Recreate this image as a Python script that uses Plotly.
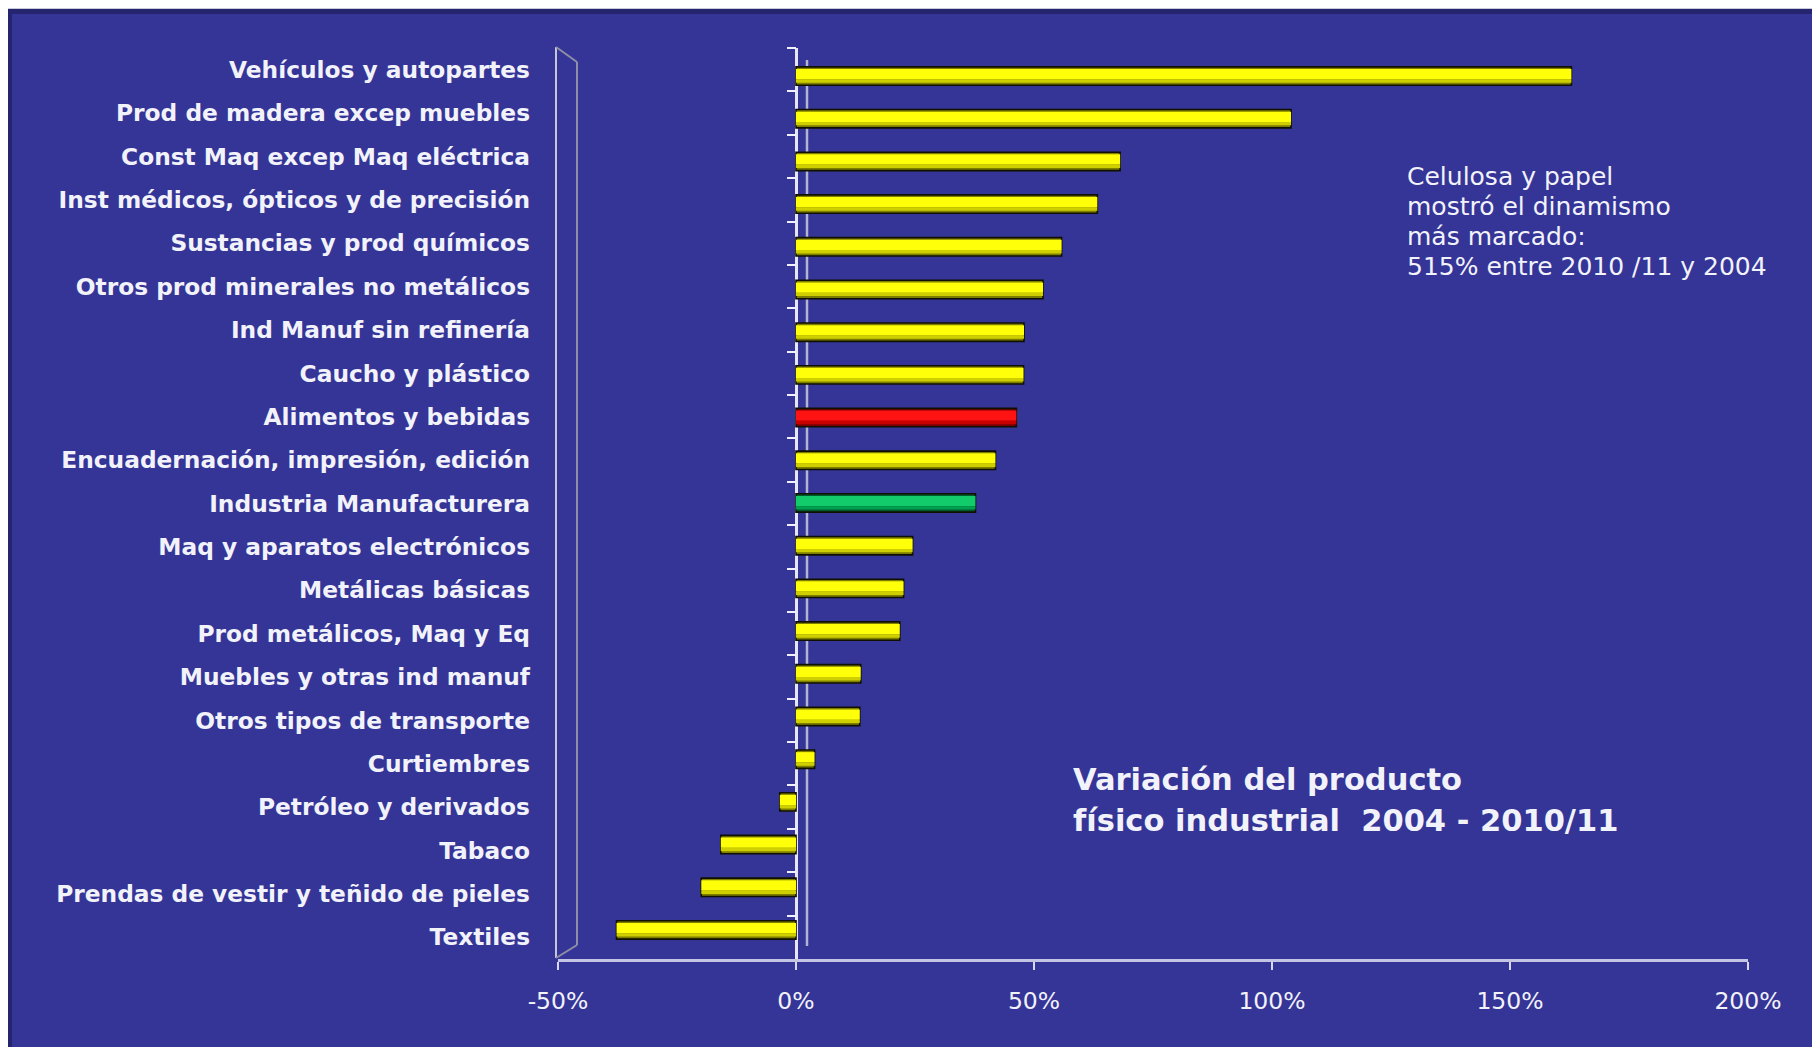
import plotly.graph_objects as go

# ---------------- data ----------------
categories = [
    "Vehículos y autopartes",
    "Prod de madera excep muebles",
    "Const Maq excep Maq eléctrica",
    "Inst médicos, ópticos y de precisión",
    "Sustancias y prod químicos",
    "Otros prod minerales no metálicos",
    "Ind Manuf sin refinería",
    "Caucho y plástico",
    "Alimentos y bebidas",
    "Encuadernación, impresión, edición",
    "Industria Manufacturera",
    "Maq y aparatos electrónicos",
    "Metálicas básicas",
    "Prod metálicos, Maq y Eq",
    "Muebles y otras ind manuf",
    "Otros tipos de transporte",
    "Curtiembres",
    "Petróleo y derivados",
    "Tabaco",
    "Prendas de vestir y teñido de pieles",
    "Textiles",
]
values = [162.9, 104.0, 68.1, 63.3, 55.8, 51.9, 47.9, 47.8, 46.3, 41.9, 37.7,
          24.5, 22.6, 21.8, 13.6, 13.4, 3.9, -3.4, -15.8, -19.9, -37.7]
bar_kind = ["yellow"] * 8 + ["red", "yellow", "green"] + ["yellow"] * 10

x_tickvals = [-50, 0, 50, 100, 150, 200]
x_ticktext = ["-50%", "0%", "50%", "100%", "150%", "200%"]

note_lines = ["Celulosa y papel", "mostró el dinamismo", "más marcado:",
              "515% entre 2010 /11 y 2004"]
title_lines = ["Variación del producto", "físico industrial  2004 - 2010/11"]

# ---------------- styling ----------------
# the page body adds an 8px margin, so the figure is 8px smaller than the window
W, H = 1812, 1039
L, R, T, B = 550, 72, 40, 88
PW, PH = W - L - R, H - T - B
BG = "#353597"
TXT = "#f2f2fa"

shade = {  # dark edge, bright body, mid tone
    "yellow": ("#7d7d00", "#ffff0a", "#cfcf00"),
    "red": ("#7a0000", "#ff1212", "#c80000"),
    "green": ("#005a2c", "#12cc6c", "#00a04e"),
}


def px(xw):  # window x -> paper
    return (xw - 558) / PW


def py(yw):  # window y -> paper
    return (959 - yw) / PH


fig = go.Figure()

bw = 0.43
layers = [  # (shade index, offset, width, outline)
    (0, -bw / 2, bw, True),
    (1, -bw / 2 + 0.05, 0.24, False),
    (2, -bw / 2 + 0.29, 0.08, False),
]
for si, off, wd, outline in layers:
    fig.add_trace(go.Bar(
        y=categories, x=values, orientation="h",
        offset=off, width=wd,
        marker=dict(color=[shade[k][si] for k in bar_kind],
                    line=dict(color="#101000" if outline else "rgba(0,0,0,0)",
                              width=1.6 if outline else 0)),
        hoverinfo="skip" if not outline else None,
        showlegend=False,
    ))

# invisible copies that carry the tick axis at 0% and the label axis
for ax in ("y2", "y3"):
    fig.add_trace(go.Bar(
        y=categories, x=values, orientation="h", yaxis=ax,
        offset=-bw / 2, width=bw, opacity=0, hoverinfo="skip", showlegend=False,
    ))

bar_range = [20.68, -0.656]     # bars sit slightly lower (3D perspective)
front_range = [20.5, -0.5]      # front axis: ticks and labels

cat_axis = dict(type="category", categoryorder="array", categoryarray=categories,
                showgrid=False, zeroline=False, showline=False)

fig.update_layout(
    width=W, height=H,
    margin=dict(l=L, r=R, t=T, b=B, pad=0),
    paper_bgcolor="white",
    plot_bgcolor=BG,
    barmode="overlay",
    xaxis=dict(
        range=[-50, 200], tickvals=x_tickvals, ticktext=x_ticktext,
        showgrid=False, zeroline=True, zerolinecolor="#e6e6f6", zerolinewidth=2.5,
        showline=True, linecolor="#c4c4e4", linewidth=3,
        ticks="outside", ticklen=8, tickwidth=2, tickcolor="#d8d8f0",
        tickfont=dict(family="DejaVu Sans", size=23.5, color=TXT),
        ticklabelstandoff=11,
    ),
    yaxis=dict(**cat_axis, range=bar_range, showticklabels=False, ticks=""),
    yaxis2=dict(
        **cat_axis, range=front_range,
        overlaying="y", anchor="free", position=0.2, side="left",
        showticklabels=False,
        ticks="outside", tickson="boundaries", ticklen=9, tickwidth=2,
        tickcolor="#f0f0ff",
    ),
    yaxis3=dict(
        **cat_axis, range=front_range,
        overlaying="y", anchor="x", side="left",
        ticks="", ticklabelstandoff=27,
        tickfont=dict(family="DejaVu Sans", size=23.3, color=TXT, weight="bold"),
    ),
)

shapes = [
    # slide background with darker top/left border
    dict(type="rect", xref="paper", yref="paper", layer="below",
         x0=px(7), x1=px(1830), y0=py(1060), y1=py(9),
         fillcolor="#25256f", line=dict(width=0)),
    dict(type="rect", xref="paper", yref="paper", layer="below",
         x0=px(12), x1=px(1830), y0=py(1060), y1=py(14),
         fillcolor=BG, line=dict(width=0)),
    dict(type="line", xref="paper", yref="paper", layer="below",
         x0=px(7), x1=px(1830), y0=py(8), y1=py(8),
         line=dict(color="#b8b8cc", width=1.5)),
    # 3D side wall on the left
    dict(type="line", xref="paper", yref="paper", x0=px(556), x1=px(556),
         y0=py(47), y1=py(958), line=dict(color="#c6c6d6", width=2)),
    dict(type="line", xref="paper", yref="paper", x0=px(577), x1=px(577),
         y0=py(62), y1=py(945), line=dict(color="#8e8ea6", width=2)),
    dict(type="line", xref="paper", yref="paper", x0=px(556), x1=px(577),
         y0=py(47), y1=py(62), line=dict(color="#8e8ea6", width=2)),
    dict(type="line", xref="paper", yref="paper", x0=px(556), x1=px(577),
         y0=py(958), y1=py(945), line=dict(color="#8e8ea6", width=2)),
    # back wall edge behind the bars
    dict(type="line", xref="paper", yref="paper", layer="below",
         x0=px(807), x1=px(807), y0=py(60), y1=py(946),
         line=dict(color="#b4b4d2", width=2.5)),
]
fig.update_layout(shapes=shapes)

ann = []
for i, t in enumerate(note_lines):
    ann.append(dict(text=t, xref="paper", yref="paper", x=px(1405),
                    y=py(176 + 30.3 * i), xanchor="left", yanchor="middle",
                    showarrow=False,
                    font=dict(family="DejaVu Sans", size=25, color=TXT)))
for i, t in enumerate(title_lines):
    ann.append(dict(text=t, xref="paper", yref="paper", x=px(1071),
                    y=py(779 + 41 * i), xanchor="left", yanchor="middle",
                    showarrow=False,
                    font=dict(family="DejaVu Sans", size=30.5, color=TXT, weight="bold")))
fig.update_layout(annotations=ann)

fig.write_html("out.html")
